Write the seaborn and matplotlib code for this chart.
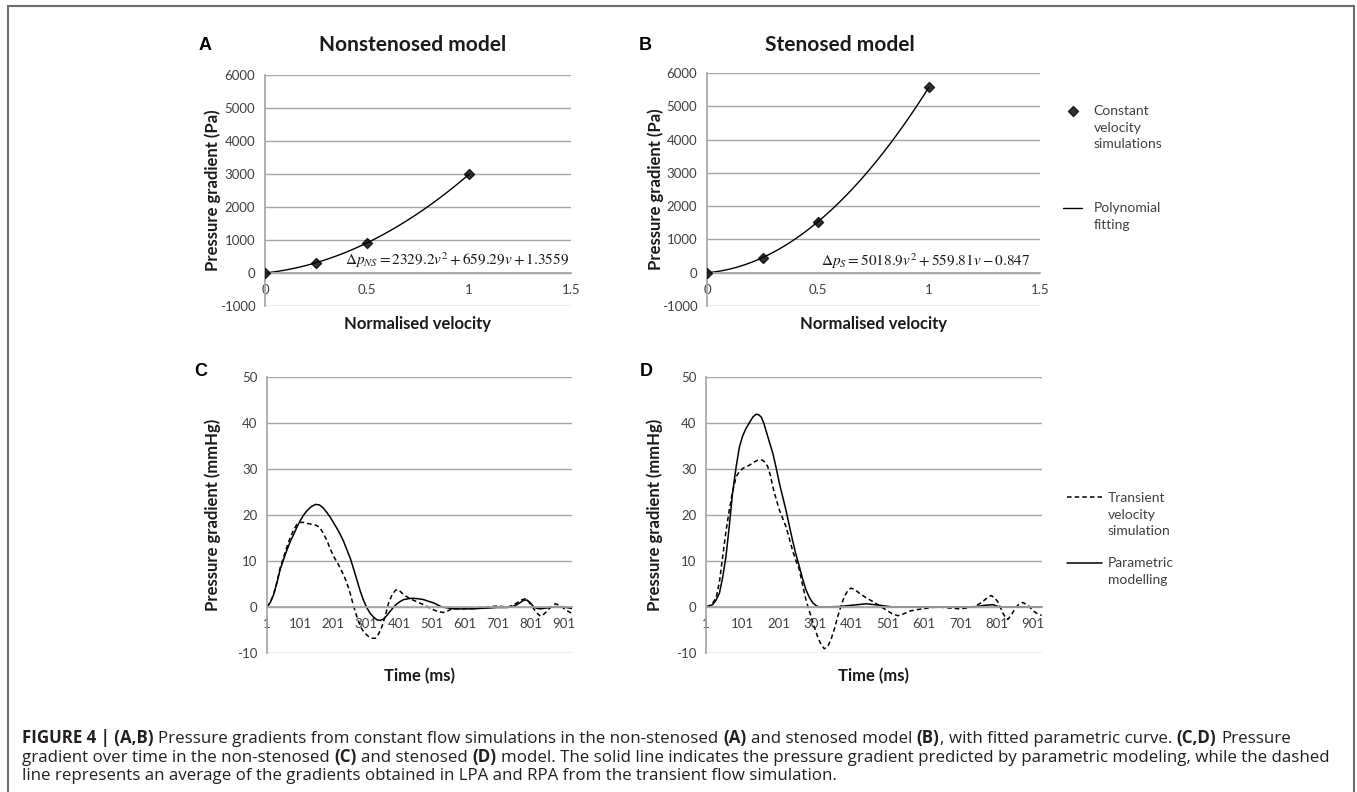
import numpy as np
import pandas as pd
import seaborn as sns
import matplotlib.pyplot as plt
from matplotlib import font_manager
from matplotlib.patches import Rectangle
from matplotlib.offsetbox import TextArea, HPacker, AnchoredOffsetbox
from matplotlib.legend_handler import HandlerLine2D, HandlerPathCollection
from matplotlib.transforms import Affine2D

# --- Dados ---

# Paineis A e B: simulações a velocidade constante
velocity = [0.0, 0.25, 0.5, 1.0]
dp_nonstenosed = [0, 312, 913, 2990]
dp_stenosed = [0, 453, 1534, 5578]

# Painel C (não estenosado), gradiente em mmHg
t_c_param = [1, 11, 21, 31, 41, 52, 62, 72, 82, 92, 102, 112, 122, 135, 148, 160, 172, 183, 193, 203,
             213, 223, 233, 243, 254, 264, 274, 284, 294, 304, 314, 324, 335, 345, 355, 365, 375, 385,
             395, 405, 415, 430, 441, 460, 476, 492, 506, 520, 532, 550, 567, 600, 628, 650, 678, 700,
             729, 745, 759, 770, 780, 790, 800, 810, 820, 830, 850, 865, 880, 901, 925]
p_c_param = [0, 1.0, 2.7, 5.2, 8.2, 10.5, 12.5, 14.3, 15.8, 17.4, 18.8, 20.0, 20.9, 21.8, 22.3, 22.2,
             21.5, 20.5, 19.5, 18.3, 17.1, 15.8, 14.3, 12.5, 10.5, 8.2, 5.8, 3.4, 1.4, -0.2, -1.4, -2.2,
             -2.8, -2.9, -2.6, -1.8, -0.9, 0.0, 0.7, 1.2, 1.6, 1.8, 1.9, 1.8, 1.6, 1.2, 0.9, 0.4, 0.0,
             -0.2, -0.4, -0.4, -0.4, -0.3, -0.2, -0.1, -0.1, 0.1, 0.5, 1.0, 1.5, 1.5, 0.9, 0.0, -0.3,
             -0.4, -0.2, 0.0, 0.1, 0.0, -0.3]
t_c_trans = [1, 11, 21, 31, 41, 52, 62, 72, 82, 92, 102, 112, 122, 135, 148, 160, 172, 183, 193, 203,
             213, 223, 233, 243, 254, 264, 274, 284, 296, 309, 320, 330, 340, 350, 360, 370, 380, 390,
             397, 405, 415, 428, 441, 460, 476, 492, 506, 520, 536, 548, 561, 590, 628, 650, 678, 700,
             729, 745, 759, 772, 785, 795, 805, 818, 830, 840, 850, 862, 875, 884, 891, 906, 921, 925]
p_c_trans = [0, 1.0, 2.7, 5.4, 8.5, 11.0, 13.2, 15.2, 16.8, 18.0, 18.4, 18.4, 18.2, 18.0, 17.8, 17.4,
             16.0, 14.4, 12.6, 11.0, 9.8, 8.5, 7.0, 5.3, 2.8, 0.1, -2.2, -4.2, -5.6, -6.4, -6.8, -6.8,
             -5.8, -4.2, -1.8, 0.9, 2.6, 3.6, 3.8, 3.4, 2.7, 2.1, 1.6, 1.0, 0.5, -0.1, -0.6, -1.0, -1.2,
             -0.9, -0.4, -0.4, -0.3, -0.1, 0.1, 0.2, 0.0, 0.3, 0.9, 1.5, 1.8, 1.1, 0.1, -1.2, -2.0, -1.6,
             -0.9, 0.0, 0.7, 0.5, 0.3, -0.6, -1.2, -1.3]

# Painel D (estenosado)
t_d_param = [1, 10, 19, 28, 38, 47, 56, 65, 74, 84, 93, 102, 111, 120, 130, 139, 146, 153, 160, 166,
             175, 185, 194, 203, 212, 221, 230, 239, 248, 258, 267, 276, 286, 295, 304, 313, 368, 405,
             442, 478, 515, 735, 755, 772, 791, 809, 925]
p_d_param = [0, 0.2, 0.5, 1.4, 3.0, 6.5, 11.0, 17.5, 24.7, 30.5, 34.8, 37.2, 38.8, 40.0, 41.3, 41.9,
             41.8, 41.3, 40.0, 38.4, 36.0, 33.4, 30.3, 26.9, 24.0, 21.1, 17.8, 14.6, 11.6, 8.8, 6.1, 3.8,
             2.0, 0.9, 0.3, 0.0, 0.1, 0.4, 0.7, 0.4, 0.0, 0.0, 0.2, 0.4, 0.5, 0.0, 0.0]
t_d_trans = [1, 10, 19, 29, 38, 47, 56, 65, 74, 84, 93, 102, 111, 120, 131, 143, 150, 157, 164, 171,
             178, 185, 194, 203, 212, 221, 230, 239, 248, 258, 267, 276, 283, 290, 299, 308, 318, 327,
             336, 345, 355, 364, 373, 382, 391, 400, 411, 423, 440, 460, 478, 496, 512, 529, 545, 561,
             580, 598, 620, 644, 670, 699, 720, 735, 750, 763, 775, 786, 795, 804, 811, 818, 825, 832,
             841, 850, 861, 873, 882, 891, 900, 910, 919, 925]
p_d_trans = [0, 0.3, 0.8, 2.0, 5.5, 11.0, 16.5, 21.0, 25.0, 28.3, 29.5, 30.1, 30.5, 30.8, 31.4, 31.9,
             32.0, 31.9, 31.4, 30.5, 28.7, 26.1, 23.5, 21.1, 19.3, 17.5, 15.0, 12.4, 10.2, 8.1, 4.8, 1.6,
             -0.3, -2.0, -4.3, -6.4, -8.2, -9.1, -8.6, -7.1, -4.6, -2.0, 0.3, 2.3, 3.5, 4.1, 3.8, 3.0,
             2.1, 1.2, 0.3, -0.6, -1.4, -1.9, -1.5, -0.9, -0.6, -0.4, -0.1, 0.0, -0.2, -0.4, -0.2, 0.0,
             0.5, 1.2, 2.0, 2.5, 2.0, 1.2, 0.0, -1.3, -2.2, -2.7, -1.8, -0.6, 0.5, 1.0, 0.6, 0.1, -0.7,
             -1.3, -1.7, -1.8]

time_ticks = [1, 101, 201, 301, 401, 501, 601, 701, 801, 901]
velocity_ticks = [0, 0.5, 1, 1.5]

# --- Estilo ---
sns.set_theme(style='white')
installed = {f.name for f in font_manager.fontManager.ttflist}
chart_font = 'Lato' if 'Lato' in installed else 'DejaVu Sans'
cap_font = 'Open Sans' if 'Open Sans' in installed else 'DejaVu Sans'
plt.rcParams['font.family'] = [chart_font, 'DejaVu Sans']
plt.rcParams['axes.unicode_minus'] = False

W, H = 1357, 792
fig = plt.figure(figsize=(W / 100, H / 100), dpi=100)
fig.patch.set_facecolor('white')


def box(l, t, r, b):
    return [l / W, 1 - b / H, (r - l) / W, (b - t) / H]


ax_a = fig.add_axes(box(265, 75, 571, 306))
ax_b = fig.add_axes(box(707, 73, 1040, 306))
ax_c = fig.add_axes(box(267, 377, 572, 653))
ax_d = fig.add_axes(box(706, 377, 1042, 653))

grid_col = '#a6a6a6'
tick_col = '#404040'


def excel_style(ax, ylim, yticks, ylabel, xlabel, ylab_x, xlab_y):
    ax.set_ylim(*ylim)
    ax.set_yticks(yticks)
    ax.yaxis.grid(True, color=grid_col, lw=1)
    ax.xaxis.grid(False)
    ax.set_axisbelow(True)
    for s in ['top', 'right']:
        ax.spines[s].set_visible(False)
    ax.spines['left'].set_color(grid_col)
    ax.spines['bottom'].set_color(grid_col)
    ax.spines['bottom'].set_position(('data', 0))
    ax.tick_params(axis='both', direction='out', length=4, width=1, color=grid_col,
                   labelsize=9.5, labelcolor=tick_col, pad=3)
    ax.tick_params(axis='x', pad=4)
    ax.set_ylabel(ylabel, fontsize=12, fontweight='bold', color='#1a1a1a')
    ax.set_xlabel(xlabel, fontsize=12, fontweight='bold', color='#1a1a1a')
    ax.yaxis.set_label_coords(ylab_x, 0.5)
    ax.xaxis.set_label_coords(0.5, xlab_y)


# --- Paineis A e B ---
for ax, dp in [(ax_a, dp_nonstenosed), (ax_b, dp_stenosed)]:
    sns.regplot(x=velocity, y=dp, order=2, ci=None, ax=ax, marker='D',
                scatter_kws=dict(s=26, color='black', zorder=3),
                line_kws=dict(color='black', lw=1))
    ax.set_xlim(0, 1.5)
    ax.set_xticks(velocity_ticks)
    ax.set_xticklabels(['0', '0.5', '1', '1.5'])

excel_style(ax_a, (-1000, 6000), range(-1000, 6001, 1000), 'Pressure gradient (Pa)', 'Normalised velocity', -0.144, -0.043)
excel_style(ax_b, (-1000, 6000), range(-1000, 6001, 1000), 'Pressure gradient (Pa)', 'Normalised velocity', -0.129, -0.043)

ax_a.text(0.995, 0.2, r'$\Delta p_{NS} = 2329.2v^2 + 659.29v + 1.3559$', transform=ax_a.transAxes,
          ha='right', va='center', fontsize=11, math_fontfamily='stix', color='#1a1a1a')
ax_b.text(0.97, 0.194, r'$\Delta p_S = 5018.9v^2 + 559.81v - 0.847$', transform=ax_b.transAxes,
          ha='right', va='center', fontsize=11, math_fontfamily='stix', color='#1a1a1a')

# --- Paineis C e D ---
for ax, tt, pt, tp, pp in [(ax_c, t_c_trans, p_c_trans, t_c_param, p_c_param),
                           (ax_d, t_d_trans, p_d_trans, t_d_param, p_d_param)]:
    sns.lineplot(x=tt, y=pt, ax=ax, color='black', lw=1.1, linestyle='--')
    ax.lines[-1].set_dashes([3, 2])
    sns.lineplot(x=tp, y=pp, ax=ax, color='black', lw=1.1)
    ax.set_xlim(1, 926)
    ax.set_xticks(time_ticks)

excel_style(ax_c, (-10, 50), range(-10, 51, 10), 'Pressure gradient (mmHg)', 'Time (ms)', -0.151, -0.053)
excel_style(ax_d, (-10, 50), range(-10, 51, 10), 'Pressure gradient (mmHg)', 'Time (ms)', -0.128, -0.053)

# --- Títulos e letras ---
fig.text(413 / W, 1 - 45 / H, 'Nonstenosed model', ha='center', va='center', fontsize=15, fontweight='bold', color='#1a1a1a')
fig.text(840 / W, 1 - 45 / H, 'Stenosed model', ha='center', va='center', fontsize=15, fontweight='bold', color='#1a1a1a')
for letter, x, y in [('A', 205, 45), ('B', 645, 45), ('C', 201, 372), ('D', 646, 372)]:
    fig.text(x / W, 1 - y / H, letter, ha='center', va='center', fontsize=13, fontweight='bold',
             family='Liberation Sans', color='black')


# --- Legendas (símbolo alinhado com a primeira linha do rótulo) ---
leg_size = 10
leg_spacing = 1.47


class RaisedLine(HandlerLine2D):
    def __init__(self, lines, **kw):
        super().__init__(**kw)
        self.dy = (lines - 1) / 2 * leg_spacing * 0.86 * leg_size

    def create_artists(self, legend, orig_handle, xdescent, ydescent, width, height, fontsize, trans):
        return super().create_artists(legend, orig_handle, xdescent, ydescent, width, height, fontsize,
                                      Affine2D().translate(0, self.dy) + trans)


class RaisedPoints(HandlerPathCollection):
    def __init__(self, lines, **kw):
        super().__init__(**kw)
        self.dy = (lines - 1) / 2 * leg_spacing * 0.86 * leg_size

    def create_artists(self, legend, orig_handle, xdescent, ydescent, width, height, fontsize, trans):
        return super().create_artists(legend, orig_handle, xdescent, ydescent, width, height, fontsize,
                                      Affine2D().translate(0, self.dy) + trans)


pts_ab, line_ab = ax_b.collections[0], ax_b.lines[0]
leg_ab = fig.legend(handles=[pts_ab, line_ab],
                    labels=['Constant\nvelocity\nsimulations', 'Polynomial\nfitting'],
                    handler_map={pts_ab: RaisedPoints(3), line_ab: RaisedLine(2)},
                    loc='upper left', bbox_to_anchor=(1063 / W, 1 - 105 / H), frameon=False,
                    fontsize=leg_size, labelcolor='#404040', handlelength=1.37, handletextpad=0.85,
                    labelspacing=3.72, borderpad=0, borderaxespad=0)
dash_cd, solid_cd = ax_d.lines[0], ax_d.lines[1]
leg_cd = fig.legend(handles=[dash_cd, solid_cd],
                    labels=['Transient\nvelocity\nsimulation', 'Parametric\nmodelling'],
                    handler_map={dash_cd: RaisedLine(3), solid_cd: RaisedLine(2)},
                    loc='upper left', bbox_to_anchor=(1067 / W, 1 - 492 / H), frameon=False,
                    fontsize=leg_size, labelcolor='#404040', handlelength=2.5, handletextpad=0.43,
                    labelspacing=1.4, borderpad=0, borderaxespad=0)
for leg in [leg_ab, leg_cd]:
    for t in leg.get_texts():
        t.set_linespacing(leg_spacing)

# --- Moldura e legenda da figura ---
fig.add_artist(Rectangle((8 / W, -0.05), (1354 - 8) / W, 1 - 6 / H + 0.05, transform=fig.transFigure,
                         fill=False, edgecolor='#6e6e6e', lw=1.5, clip_on=False))

cap_size = 12.2
space = 3.35
caption_lines = [
    [[('FIGURE 4 | (A,B)', True)], [('Pressure gradients from constant flow simulations in the non-stenosed', False)],
     [('(A)', True)], [('and stenosed model', False)], [('(B)', True), (',', False)],
     [('with fitted parametric curve.', False)], [('(C,D)', True)], [('Pressure', False)]],
    [[('gradient over time in the non-stenosed', False)], [('(C)', True)], [('and stenosed', False)], [('(D)', True)],
     [('model. The solid line indicates the pressure gradient predicted by parametric modeling, while the dashed', False)]],
    [[('line represents an average of the gradients obtained in LPA and RPA from the transient flow simulation.', False)]],
]
for line, y in zip(caption_lines, [738, 757, 776]):
    words = []
    for group in line:
        parts = [TextArea(txt, textprops=dict(family=cap_font, fontsize=cap_size, color='#231f20',
                                              fontweight='bold' if bold else 'normal'))
                 for txt, bold in group]
        words.append(HPacker(children=parts, align='baseline', pad=0, sep=0))
    row = HPacker(children=words, align='baseline', pad=0, sep=space)
    fig.add_artist(AnchoredOffsetbox(loc='center left', child=row, pad=0, borderpad=0, frameon=False,
                                     bbox_to_anchor=(22 / W, 1 - y / H), bbox_transform=fig.transFigure))

fig.savefig('out.png', dpi=100)
